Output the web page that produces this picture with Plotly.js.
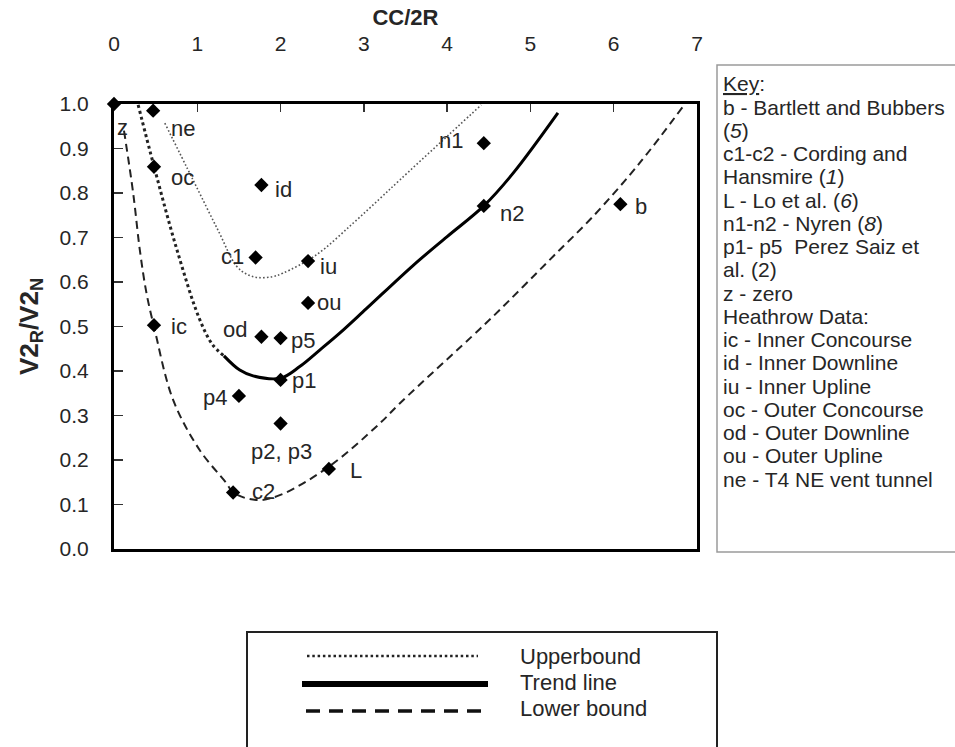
<!DOCTYPE html>
<html>
<head>
<meta charset="utf-8">
<script src="https://cdn.plot.ly/plotly-3.0.1.min.js"></script>
<style>
  html, body { margin: 0; padding: 0; background: #fff; }
  #chart { width: 955px; height: 747px; }
</style>
</head>
<body>
<div id="chart"></div>
<script>
// Case-history points: normalised pillar spacing vs. velocity ratio
const pointLabels = ['z', 'ne', 'oc', 'id', 'c1', 'iu', 'ou', 'ic', 'od', 'p5', 'p1', 'p4', 'p2, p3', 'L', 'c2', 'n1', 'n2', 'b'];
const pointX = [0, 0.47, 0.48, 1.77, 1.70, 2.33, 2.33, 0.48, 1.77, 2.0, 2.0, 1.5, 2.0, 2.58, 1.43, 4.44, 4.44, 6.08];
const pointY = [1.0, 0.985, 0.859, 0.818, 0.655, 0.647, 0.553, 0.503, 0.477, 0.474, 0.38, 0.344, 0.282, 0.18, 0.127, 0.912, 0.771, 0.775];

// Upper bound curve
const upperX = [0.61, 0.95, 1.25, 1.47, 1.6, 1.73, 1.9, 2.03, 2.43, 2.87, 3.19, 3.43, 3.91, 4.41];
const upperY = [0.957, 0.829, 0.716, 0.636, 0.617, 0.61, 0.612, 0.62, 0.661, 0.732, 0.787, 0.829, 0.912, 0.998];

// Trend line: extrapolated (dotted) part and fitted (solid) part
const trendExtX = [0.29, 0.48, 0.75, 1.02, 1.18, 1.32];
const trendExtY = [0.998, 0.86, 0.676, 0.52, 0.46, 0.434];
const trendX = [1.32, 1.51, 1.67, 2.0, 2.23, 2.47, 2.71, 3.03, 3.59, 4.0, 4.44, 4.79, 5.33];
const trendY = [0.434, 0.402, 0.389, 0.384, 0.41, 0.447, 0.485, 0.54, 0.637, 0.702, 0.771, 0.844, 0.98];

// Lower bound curve
const lowerX = [0.12, 0.23, 0.31, 0.39, 0.48, 0.71, 1.03, 1.35, 1.43, 1.71, 1.99, 2.58, 3.19, 3.43, 4.39, 4.63, 5.19, 5.35, 5.75, 6.31, 6.83];
const lowerY = [0.94, 0.80, 0.672, 0.575, 0.50, 0.335, 0.222, 0.148, 0.127, 0.11, 0.121, 0.185, 0.282, 0.327, 0.494, 0.537, 0.642, 0.672, 0.747, 0.867, 0.994];

// Axis ticks
const xTicks = [0, 1, 2, 3, 4, 5, 6, 7];
const yTicks = [0, 0.1, 0.2, 0.3, 0.4, 0.5, 0.6, 0.7, 0.8, 0.9, 1.0];
const yTickText = ['0.0', '0.1', '0.2', '0.3', '0.4', '0.5', '0.6', '0.7', '0.8', '0.9', '1.0'];

// Key text (one entry per line)
const keyLines = [
  '<u>Key</u>:',
  'b - Bartlett and Bubbers',
  '(<i>5</i>)',
  'c1-c2 - Cording and',
  'Hansmire (<i>1</i>)',
  'L - Lo et al. (<i>6</i>)',
  'n1-n2 - Nyren (<i>8</i>)',
  'p1- p5\u00a0 Perez Saiz et',
  'al. (2)',
  'z - zero',
  'Heathrow Data:',
  'ic - Inner Concourse',
  'id - Inner Downline',
  'iu - Inner Upline',
  'oc - Outer Concourse',
  'od - Outer Downline',
  'ou - Outer Upline',
  'ne - T4 NE vent tunnel'
];

// Line legend entries
const legendNames = ['Upperbound', 'Trend line', 'Lower bound'];

// Pixel offsets of each point label from its marker
const labelOffsets = {
  'z': [8, 23], 'ne': [30, 18], 'oc': [29, 11], 'id': [22, 5], 'c1': [-23, -1],
  'iu': [20, 5], 'ou': [21, 0], 'ic': [25, 1], 'od': [-26, -7], 'p5': [22, 2],
  'p1': [23, 1], 'p4': [-24, 2], 'p2, p3': [1, 28], 'L': [27, 2], 'c2': [30, -1],
  'n1': [-33, -3], 'n2': [28, 8], 'b': [21, 2]
};

const FONT = 'Liberation Sans, Arial, sans-serif';
const INK = '#262626';

const traces = [
  {
    x: upperX, y: upperY, mode: 'lines', name: legendNames[0],
    line: { color: '#555', width: 1.6, dash: '1.6px,2.2px', shape: 'spline', smoothing: 1 },
    hoverinfo: 'skip'
  },
  {
    x: trendExtX, y: trendExtY, mode: 'lines', name: legendNames[1] + ' (extended)',
    line: { color: '#222', width: 3, dash: '3px,3px', shape: 'spline', smoothing: 1 },
    hoverinfo: 'skip'
  },
  {
    x: trendX, y: trendY, mode: 'lines', name: legendNames[1],
    line: { color: '#000', width: 3, shape: 'spline', smoothing: 1 },
    hoverinfo: 'skip'
  },
  {
    x: lowerX, y: lowerY, mode: 'lines', name: legendNames[2],
    line: { color: '#222', width: 2, dash: '8px,5px', shape: 'spline', smoothing: 1 },
    hoverinfo: 'skip'
  },
  {
    x: pointX, y: pointY, text: pointLabels, mode: 'markers', name: 'Case histories',
    marker: { symbol: 'diamond', size: 11, color: '#000' },
    cliponaxis: false
  }
];

// px -> paper helpers for the plot frame (l=114, r=697, t=104, b=549)
const PL = 114, PR = 697, PT = 104, PB = 549;
const px = v => (v - PL) / (PR - PL);
const py = v => (PB - v) / (PB - PT);

const annotations = [];

pointLabels.forEach((lab, i) => {
  const off = labelOffsets[lab];
  annotations.push({
    x: pointX[i], y: pointY[i], xref: 'x', yref: 'y',
    text: lab, showarrow: false, xanchor: 'center', yanchor: 'middle',
    xshift: off[0], yshift: -off[1],
    font: { family: FONT, size: 22, color: INK }
  });
});

keyLines.forEach((t, i) => {
  annotations.push({
    x: px(721), y: py(84 + 23.24 * i), xref: 'paper', yref: 'paper',
    text: t, showarrow: false, xanchor: 'left', yanchor: 'middle', align: 'left',
    font: { family: FONT, size: 21, color: INK }
  });
});

const legendRows = [656, 682, 708];
legendNames.forEach((t, i) => {
  annotations.push({
    x: px(518), y: py(legendRows[i]), xref: 'paper', yref: 'paper',
    text: t, showarrow: false, xanchor: 'left', yanchor: 'middle',
    font: { family: FONT, size: 22, color: INK }
  });
});

const shapes = [
  // key box
  { type: 'rect', xref: 'paper', yref: 'paper', x0: px(717), x1: px(965), y0: py(552), y1: py(65),
    line: { color: '#9a9a9a', width: 1.5 }, fillcolor: 'rgba(0,0,0,0)' },
  // line legend box
  { type: 'rect', xref: 'paper', yref: 'paper', x0: px(247), x1: px(717), y0: py(770), y1: py(632),
    line: { color: '#222', width: 2 }, fillcolor: 'rgba(0,0,0,0)' },
  // legend samples
  { type: 'line', xref: 'paper', yref: 'paper', x0: px(307), x1: px(478), y0: py(656), y1: py(656),
    line: { color: '#222', width: 2.5, dash: '2.5px,2.8px' } },
  { type: 'line', xref: 'paper', yref: 'paper', x0: px(302), x1: px(488), y0: py(684), y1: py(684),
    line: { color: '#000', width: 6 } },
  { type: 'line', xref: 'paper', yref: 'paper', x0: px(306), x1: px(487), y0: py(711), y1: py(711),
    line: { color: '#111', width: 3.5, dash: '14px,9px' } }
];

const layout = {
  width: 955, height: 747,
  margin: { l: PL, r: 955 - PR, t: PT, b: 747 - PB, pad: 0 },
  paper_bgcolor: '#fff', plot_bgcolor: '#fff',
  showlegend: false,
  font: { family: FONT, color: INK },
  xaxis: {
    side: 'top', range: [0, 7], tickvals: xTicks, ticktext: xTicks.map(String),
    ticks: 'inside', ticklen: 8, tickwidth: 1.5, tickcolor: '#333',
    showline: true, mirror: true, linewidth: 3, linecolor: '#000',
    showgrid: false, zeroline: false, automargin: false, fixedrange: true,
    tickfont: { family: FONT, size: 21, color: INK },
    ticklabelstandoff: 42,
    title: { text: '<b>CC/2R</b>', font: { family: FONT, size: 22, color: INK }, standoff: 0 }
  },
  yaxis: {
    range: [0, 1], tickvals: yTicks, ticktext: yTickText,
    ticks: 'inside', ticklen: 9, tickwidth: 1.5, tickcolor: '#333',
    showline: true, mirror: true, linewidth: 3, linecolor: '#000',
    showgrid: false, zeroline: false, automargin: false, fixedrange: true,
    tickfont: { family: FONT, size: 21, color: INK },
    ticklabelstandoff: 18,
    title: { text: '<b>V2<sub>R</sub>/V2<sub>N</sub></b>', font: { family: FONT, size: 26, color: INK }, standoff: 14 }
  },
  annotations: annotations,
  shapes: shapes
};

Plotly.newPlot('chart', traces, layout, { displayModeBar: false, staticPlot: true });
</script>
</body>
</html>
